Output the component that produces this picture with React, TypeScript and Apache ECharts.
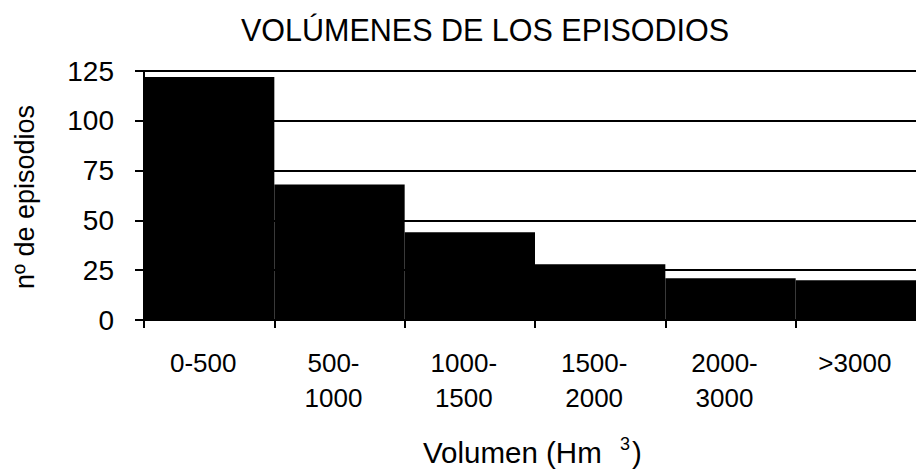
import React, { useEffect, useRef } from "react";
import * as echarts from "echarts";

const categories = ["0-500", "500-\n1000", "1000-\n1500", "1500-\n2000", "2000-\n3000", ">3000"];
const episodes = [122, 68, 44, 28, 21, 20];
const yTicks = { min: 0, max: 125, interval: 25 };
const titleText = "VOLÚMENES DE LOS EPISODIOS";
const yName = "nº de episodios";
const xNameMain = "Volumen (Hm ";
const xNameSup = "3";
const xNameEnd = ")";

const FONT = "'Liberation Sans', Arial, sans-serif";

export default function App() {
  const ref = useRef<HTMLDivElement>(null);
  useEffect(() => {
    if (!ref.current) return;
    const chart = echarts.init(ref.current, null, { renderer: "svg" });
    chart.setOption({
      animation: false,
      backgroundColor: "#fff",
      textStyle: { fontFamily: FONT, color: "#000" },
      title: {
        text: titleText,
        left: 236,
        top: 9,
        textStyle: { fontSize: 30.5, fontWeight: "normal", color: "#000", fontFamily: FONT },
      },
      grid: { left: 144, top: 71, height: 249, width: 782, containLabel: false, outerBoundsMode: "none" },
      xAxis: {
        type: "category",
        data: categories,
        axisLine: { show: true, lineStyle: { color: "#000", width: 2 } },
        axisTick: { show: true, length: 8, lineStyle: { color: "#000", width: 2 } },
        axisLabel: {
          fontSize: 26,
          lineHeight: 35,
          margin: 25,
          padding: [0, 12, 0, 0],
          color: "#000",
          fontFamily: FONT,
          interval: 0,
        },
      },
      yAxis: {
        type: "value",
        min: yTicks.min,
        max: yTicks.max,
        interval: yTicks.interval,
        axisLine: { show: true, lineStyle: { color: "#000", width: 2 } },
        axisTick: { show: true, length: 9, lineStyle: { color: "#000", width: 2 } },
        axisLabel: { fontSize: 28, margin: 30, color: "#000", fontFamily: FONT },
        splitLine: { show: true, lineStyle: { color: "#000", width: 2 } },
      },
      graphic: [
        {
          type: "text",
          x: 25,
          y: 197,
          rotation: Math.PI / 2,
          style: { text: yName, fontSize: 27, fontFamily: FONT, fill: "#000", align: "center", verticalAlign: "middle" },
        },
        {
          type: "text",
          x: 423,
          y: 452,
          style: {
            text: xNameMain + "{sup|" + xNameSup + "}" + xNameEnd,
            fontSize: 29.5,
            fontFamily: FONT,
            fill: "#000",
            align: "left",
            verticalAlign: "middle",
            rich: { sup: { fontSize: 18, fontFamily: FONT, fill: "#000", padding: [0, 2, 16, 10] } },
          },
        },
      ],
      series: [
        {
          type: "bar",
          data: episodes,
          barCategoryGap: "0%",
          itemStyle: { color: "#000" },
        },
      ],
    });
    return () => chart.dispose();
  }, []);
  return <div ref={ref} style={{ position: "fixed", left: 0, top: 0, width: 916, height: 470 }} />;
}
